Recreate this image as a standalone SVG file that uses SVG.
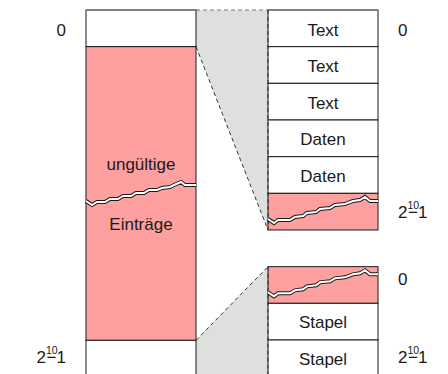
<svg xmlns="http://www.w3.org/2000/svg" width="448" height="374" viewBox="0 0 448 374">
<style>
.w{fill:#ffffff;stroke:#1a1a1a;stroke-width:1}
.r{fill:#ffa0a0;stroke:#1a1a1a;stroke-width:1}
.t{font-family:"Liberation Sans",Arial,sans-serif;font-size:17px;fill:#1a1a1a}
.m{text-anchor:middle}
.sup{font-size:10.5px}
.zb{fill:none;stroke:#1a1a1a;stroke-width:4;stroke-linejoin:miter}
.zw{fill:none;stroke:#ffffff;stroke-width:2;stroke-linejoin:miter}
.dash{fill:none;stroke:#333333;stroke-width:1;stroke-dasharray:4 3}
.grey{fill:#dde0dd;stroke:none}
</style>
<rect width="448" height="374" fill="#ffffff"/>
<defs>
<path id="zl" d="M86,201 L92,205 L97,202 L105,202 L110,199 L118,199 L123,196 L131,196 L136,193 L144,193 L149,190 L157,190 L162,188 L170,187 L174,185 L181,182 L185,185 L196,185"/>
<path id="zr" d="M268,219 L274,223 L278,220 L290,220 L295,217 L303,216 L307,213 L316,212 L320,209 L330,208 L335,205 L345,204 L353,201 L360,200 L365,197 L370,201 L378,201"/>
</defs>
<g id="connectors">
<polygon class="grey" points="196,10 268,10 268,230 196,46.67"/>
<polygon class="grey" points="196,340.33 268,266.67 268,374 196,374"/>
<line class="dash" x1="196" y1="46.67" x2="268" y2="230"/>
<line class="dash" x1="196" y1="340.33" x2="268" y2="266.67"/>
<line class="dash" x1="196" y1="10" x2="268" y2="10" style="stroke:#777777"/>
</g>
<g id="left-column">
<rect class="w" x="86" y="10" width="110" height="36.67"/>
<rect class="r" x="86" y="46.67" width="110" height="293.66"/>
<rect class="w" x="86" y="340.33" width="110" height="36.67"/>
<line x1="86" y1="10" x2="196" y2="10" stroke="#777777" stroke-width="1.2"/>
<use href="#zl" class="zb"/>
<use href="#zl" class="zw"/>
<text class="t m" x="141" y="170">ungültige</text>
<text class="t m" x="141" y="230">Einträge</text>
</g>
<g id="left-labels">
<text class="t" x="66" y="36" text-anchor="end">0</text>
<text class="t" x="36.5" y="363">2<tspan class="sup" x="46" y="353.5">10</tspan><tspan x="46.5" y="363">−1</tspan></text>
</g>
<g id="right-top">
<rect class="w" x="268" y="10" width="110" height="36.67"/>
<rect class="w" x="268" y="46.67" width="110" height="36.66"/>
<rect class="w" x="268" y="83.33" width="110" height="36.67"/>
<rect class="w" x="268" y="120" width="110" height="36.67"/>
<rect class="w" x="268" y="156.67" width="110" height="36.66"/>
<rect class="r" x="268" y="193.33" width="110" height="36.67"/>
<line x1="268" y1="10" x2="378" y2="10" stroke="#777777" stroke-width="1.2"/>
<line class="dash" x1="268" y1="10" x2="268" y2="230"/>
<use href="#zr" class="zb"/>
<use href="#zr" class="zw"/>
<text class="t m" x="323" y="35.5">Text</text>
<text class="t m" x="323" y="72">Text</text>
<text class="t m" x="323" y="108.7">Text</text>
<text class="t m" x="323" y="145.3">Daten</text>
<text class="t m" x="323" y="182">Daten</text>
</g>
<g id="right-bottom">
<rect class="r" x="268" y="266.67" width="110" height="36.66"/>
<rect class="w" x="268" y="303.33" width="110" height="36.67"/>
<rect class="w" x="268" y="340" width="110" height="36.67"/>
<line class="dash" x1="268" y1="266.67" x2="268" y2="374"/>
<use href="#zr" class="zb" transform="translate(0,73.34)"/>
<use href="#zr" class="zw" transform="translate(0,73.34)"/>
<text class="t m" x="323" y="328.3">Stapel</text>
<text class="t m" x="323" y="365">Stapel</text>
</g>
<g id="right-labels">
<text class="t" x="398" y="36">0</text>
<text class="t" x="398" y="218">2<tspan class="sup" x="407.5" y="208.5">10</tspan><tspan x="408" y="218">−1</tspan></text>
<text class="t" x="398" y="285">0</text>
<text class="t" x="398" y="363">2<tspan class="sup" x="407.5" y="353.5">10</tspan><tspan x="408" y="363">−1</tspan></text>
</g>
</svg>
